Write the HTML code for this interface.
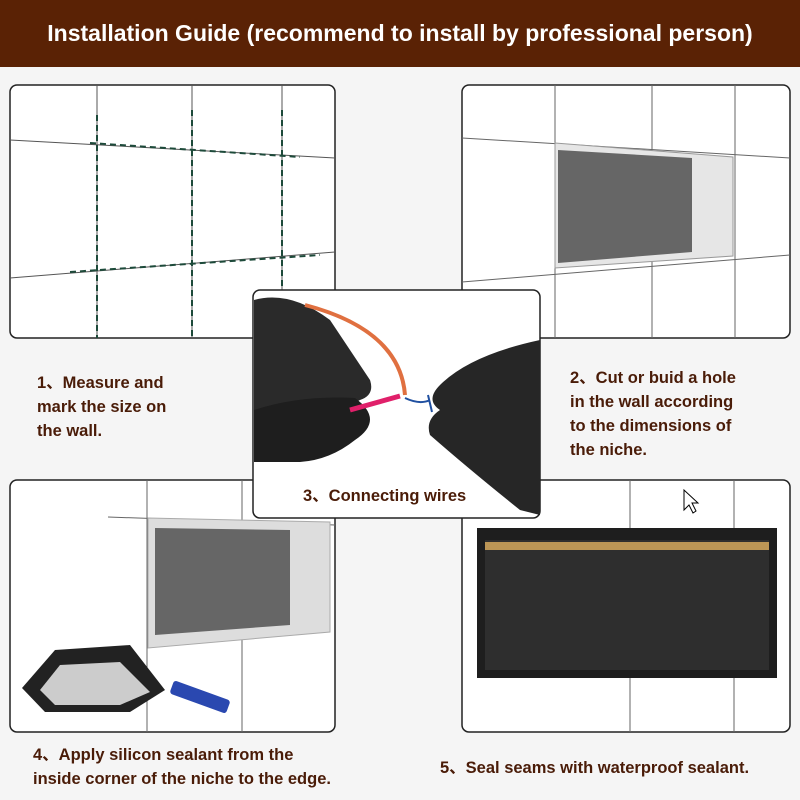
<!DOCTYPE html>
<html><head><meta charset="utf-8"><style>
body{margin:0;width:800px;height:800px;background:#f5f5f5;position:relative;overflow:hidden;font-family:"Liberation Sans","Noto Sans CJK SC",sans-serif}
.hdr{position:absolute;left:0;top:0;width:800px;height:67px;background:#5a2205;color:#fff;font-weight:bold;font-size:23px;text-align:center;line-height:66px}
.t{position:absolute;color:#4a1c08;font-weight:bold;font-size:16.5px;line-height:24px}
svg{position:absolute;left:0;top:0}
</style></head><body>
<div class="hdr">Installation Guide (recommend to install by professional person)</div>
<svg width="800" height="800">
<rect x="10" y="85" width="325" height="253" rx="7" fill="#fff" stroke="#222" stroke-width="1.5"/>
<g stroke="#555" stroke-width="1">
<line x1="97" y1="85" x2="97" y2="338"/><line x1="192" y1="85" x2="192" y2="338"/><line x1="282" y1="85" x2="282" y2="338"/>
<line x1="10" y1="140" x2="335" y2="158"/><line x1="10" y1="278" x2="335" y2="252"/>
</g>
<g stroke="#1d4a3a" stroke-width="2" stroke-dasharray="6,4">
<line x1="97" y1="115" x2="97" y2="338"/><line x1="192" y1="110" x2="192" y2="338"/><line x1="282" y1="110" x2="282" y2="338"/>
<line x1="90" y1="143" x2="300" y2="157"/><line x1="70" y1="272" x2="320" y2="255"/>
</g>
<rect x="462" y="85" width="328" height="253" rx="7" fill="#fff" stroke="#222" stroke-width="1.5"/>
<g stroke="#666" stroke-width="1">
<line x1="555" y1="85" x2="555" y2="338"/><line x1="652" y1="85" x2="652" y2="338"/><line x1="735" y1="85" x2="735" y2="338"/>
<line x1="462" y1="138" x2="790" y2="158"/><line x1="462" y1="282" x2="790" y2="255"/>
</g>
<polygon points="555,143 733,157 733,256 555,268" fill="#e6e6e6" stroke="#999"/>
<polygon points="558,150 692,158 692,252 558,263" fill="#666"/>
<rect x="10" y="480" width="325" height="252" rx="7" fill="#fff" stroke="#222" stroke-width="1.5"/>
<g stroke="#666" stroke-width="1">
<line x1="147" y1="480" x2="147" y2="732"/><line x1="242" y1="480" x2="242" y2="732"/>
<line x1="108" y1="517" x2="335" y2="525"/>
</g>
<polygon points="148,518 330,522 330,632 148,648" fill="#ddd" stroke="#aaa"/>
<polygon points="155,528 290,530 290,625 155,635" fill="#666"/>
<polygon points="22,688 55,650 130,645 165,690 130,712 45,712" fill="#222"/>
<polygon points="40,690 60,665 120,662 150,692 120,705 55,705" fill="#ccc"/>
<rect x="170" y="690" width="60" height="14" rx="3" fill="#2a48b0" transform="rotate(20 200 697)"/>
<rect x="462" y="480" width="328" height="252" rx="7" fill="#fff" stroke="#222" stroke-width="1.5"/>
<g stroke="#666" stroke-width="1">
<line x1="630" y1="480" x2="630" y2="732"/><line x1="734" y1="480" x2="734" y2="732"/>
</g>
<rect x="477" y="528" width="300" height="150" fill="#1e1e1e"/>
<rect x="485" y="540" width="284" height="130" fill="#2e2e2e"/>
<rect x="485" y="542" width="284" height="8" fill="#e0b060" opacity="0.8"/>
<polygon points="684,490 684,510 689,505 693,513 696,511 692,503 698,503" fill="#fff" stroke="#000"/>
<rect x="253" y="290" width="287" height="228" rx="7" fill="#fff" stroke="#222" stroke-width="1.5"/>
<path d="M254,300 Q290,290 330,320 L370,380 Q375,395 360,400 Q340,410 330,420 Q300,440 254,460 Z" fill="#2a2a2a"/>
<path d="M254,410 Q300,395 355,398 Q385,420 355,440 Q330,460 300,462 L254,462 Z" fill="#1e1e1e"/>
<path d="M305,305 Q400,330 405,395" stroke="#e07040" stroke-width="4" fill="none"/>
<path d="M350,410 L400,396" stroke="#e0206a" stroke-width="5"/>
<path d="M540,340 Q470,355 440,385 Q425,400 440,410 Q425,420 430,435 Q470,470 520,510 L540,515 Z" fill="#262626"/>
<path d="M405,398 Q420,405 430,400 M428,395 L432,412" stroke="#2050a0" stroke-width="2" fill="none"/>
<rect x="294" y="478" width="180" height="30" fill="#fff"/>
</svg>
<div class="t" style="left:37px;top:371px">1、Measure and<br>mark the size on<br>the wall.</div>
<div class="t" style="left:570px;top:366px">2、Cut or buid a hole<br>in the wall according<br>to the dimensions of<br>the niche.</div>
<div class="t" style="left:303px;top:484px">3、Connecting wires</div>
<div class="t" style="left:33px;top:743px">4、Apply silicon sealant from the<br>inside corner of the niche to the edge.</div>
<div class="t" style="left:440px;top:756px">5、Seal seams with waterproof sealant.</div>
</body></html>
